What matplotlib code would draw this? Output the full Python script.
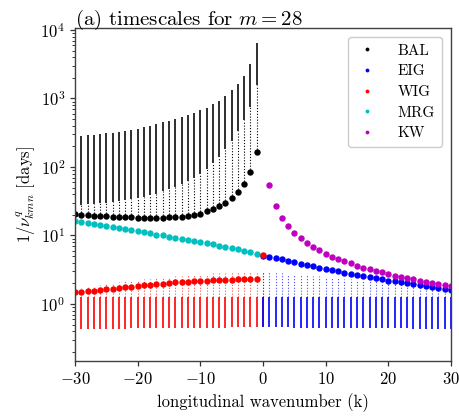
import numpy as np
import matplotlib
matplotlib.use("Agg")
import matplotlib.pyplot as plt

k_neg = list(range(-30, 0))
k_pos = list(range(1, 31))
k_eig = list(range(0, 31))
k_wig = list(range(-30, 1))

bal_big = [20.4, 20.1, 19.8, 19.5, 19.2, 19.0, 18.8, 18.6, 18.4, 18.3,
           18.2, 18.1, 18.1, 18.1, 18.2, 18.3, 18.5, 18.8, 19.3, 19.9,
           20.8, 22.5, 24.1, 26.7, 30.1, 34.9, 43.2, 56.5, 83.6, 166.0]
bal_top = [277, 284, 290, 297, 303, 310, 317, 328, 339, 351,
           363, 380, 401, 425, 449, 475, 508, 543, 574, 621,
           672, 735, 822, 920, 1077, 1316, 1610, 2108, 3190, 6400]
bal_solid = [28, 28, 29, 29, 30, 30, 31, 32, 33, 34,
             35, 37, 39, 41, 44, 47, 51, 56, 62, 70,
             80, 95, 115, 140, 180, 240, 330, 480, 750, 1600]

mrg_big = [16.3, 15.7, 15.2, 14.7, 14.2, 13.7, 13.2, 12.8, 12.3, 11.9,
           11.5, 11.1, 10.7, 10.3, 10.0, 9.6, 9.3, 9.0, 8.7, 8.4,
           8.1, 7.7, 7.4, 7.1, 6.9, 6.6, 6.3, 6.0, 5.7, 5.4]

wig_big = [1.48, 1.50, 1.53, 1.57, 1.60, 1.64, 1.67, 1.71, 1.75, 1.79,
           1.83, 1.87, 1.91, 1.96, 1.98, 2.03, 2.07, 2.10, 2.12, 2.14,
           2.17, 2.19, 2.22, 2.24, 2.26, 2.26, 2.29, 2.29, 2.32, 2.32, 5.2]
wig_top = [1.65, 1.72, 1.78, 1.84, 1.90, 1.95, 2.01, 2.07, 2.13, 2.19,
           2.25, 2.30, 2.35, 2.40, 2.45, 2.50, 2.55, 2.60, 2.65, 2.70,
           2.75, 2.78, 2.81, 2.84, 2.87, 2.90, 2.93, 2.95, 2.97, 3.00, 3.00]
wig_bot = [0.43, 0.43, 0.43, 0.43, 0.43, 0.43, 0.43, 0.43, 0.43, 0.44,
           0.44, 0.44, 0.44, 0.44, 0.44, 0.44, 0.44, 0.44, 0.45, 0.45,
           0.45, 0.45, 0.45, 0.45, 0.45, 0.46, 0.46, 0.46, 0.46, 0.46, 0.46]

eig_big = [5.1, 4.9, 4.7, 4.5, 4.3, 4.06, 3.88, 3.71, 3.55, 3.39,
           3.28, 3.14, 3.0, 2.87, 2.74, 2.65, 2.54, 2.45, 2.36, 2.28,
           2.2, 2.13, 2.06, 2.0, 1.93, 1.87, 1.81, 1.76, 1.71, 1.66, 1.61]
eig_top = [2.95, 2.93, 2.88, 2.83, 2.78, 2.73, 2.68, 2.63, 2.58, 2.53,
           2.48, 2.43, 2.39, 2.34, 2.30, 2.25, 2.21, 2.17, 2.13, 2.09,
           2.05, 2.00, 1.96, 1.92, 1.88, 1.84, 1.78, 1.72, 1.66, 1.60, 1.55]
eig_bot = [0.46, 0.46, 0.46, 0.46, 0.46, 0.45, 0.45, 0.45, 0.45, 0.45,
           0.45, 0.45, 0.45, 0.45, 0.44, 0.44, 0.44, 0.44, 0.44, 0.44,
           0.44, 0.44, 0.44, 0.44, 0.43, 0.43, 0.43, 0.43, 0.43, 0.43, 0.43]

kw_big = [54.6, 27.2, 18.2, 13.6, 10.9, 9.1, 7.8, 6.8, 6.1, 5.4,
          4.9, 4.5, 4.2, 3.9, 3.6, 3.4, 3.2, 3.0, 2.9, 2.7,
          2.6, 2.5, 2.4, 2.3, 2.2, 2.1, 2.0, 1.95, 1.88, 1.83]

plt.rcParams["font.family"] = "serif"
plt.rcParams["font.serif"] = ["cmr10"]
plt.rcParams["mathtext.fontset"] = "cm"
plt.rcParams["axes.formatter.use_mathtext"] = True
plt.rcParams["axes.unicode_minus"] = True

fig = plt.figure(figsize=(4.59, 4.17), dpi=100)
ax = fig.add_axes([0.1634, 0.1343, 0.8192, 0.7986])

dots = (0, (1, 1.6))
wig_solid_top = np.minimum(1.25, wig_top)
eig_solid_top = np.minimum(1.28, eig_top)

# columns of higher modes
ax.vlines(k_neg, bal_big, bal_solid, colors="k", lw=0.8, linestyles=dots)
ax.vlines(k_neg, bal_solid, bal_top, colors="k", lw=1.15)
ax.vlines(k_wig, wig_bot, wig_solid_top, colors="r", lw=1.2)
ax.vlines(k_wig, wig_solid_top, wig_top, colors="r", lw=0.8, linestyles=dots, alpha=0.7)
ax.vlines(k_eig, eig_bot, eig_solid_top, colors="b", lw=1.2)
ax.vlines(k_eig, eig_solid_top, eig_top, colors="b", lw=0.8, linestyles=dots, alpha=0.7)

ms = 4.6
ax.plot(k_neg, bal_big, "o", color="k", ms=ms, mew=0, label="BAL")
ax.plot(k_eig, eig_big, "o", color="b", ms=ms, mew=0, label="EIG")
ax.plot(k_neg, mrg_big, "o", color="c", ms=ms, mew=0, label="MRG")
ax.plot(k_wig, wig_big, "o", color="r", ms=ms, mew=0, label="WIG")
ax.plot(k_pos, kw_big, "o", color="m", ms=ms, mew=0, label="KW")

ax.set_yscale("log")
ax.set_xlim(-30, 30)
ax.set_ylim(0.147, 10700)
ax.set_xticks([-30, -20, -10, 0, 10, 20, 30])

for s in ax.spines.values():
    s.set_color("0.25")
    s.set_linewidth(1.0)
ax.tick_params(which="major", direction="out", length=3.5, width=0.9, color="0.2",
               labelsize=12)
ax.tick_params(which="minor", direction="out", length=2, width=0.7, color="0.2")
ax.tick_params(axis="x", which="minor", bottom=False)

ax.set_xlabel("longitudinal wavenumber (k)", fontsize=12, labelpad=5)
ax.set_ylabel(r"$1/\nu^q_{kmn}$ [days]", fontsize=12, labelpad=2)
ax.set_title(r"(a) timescales for $m = 28$", loc="left", fontsize=15, pad=2)

h, l = ax.get_legend_handles_labels()
order = ["BAL", "EIG", "WIG", "MRG", "KW"]
hh = [h[l.index(o)] for o in order]
leg = ax.legend(hh, order, loc="upper right", fontsize=11, markerscale=0.6,
                handlelength=1.6, handletextpad=1.2, borderpad=0.45,
                labelspacing=0.45, borderaxespad=0.6,
                framealpha=1, edgecolor="0.8")

fig.savefig("out.png", dpi=100)
